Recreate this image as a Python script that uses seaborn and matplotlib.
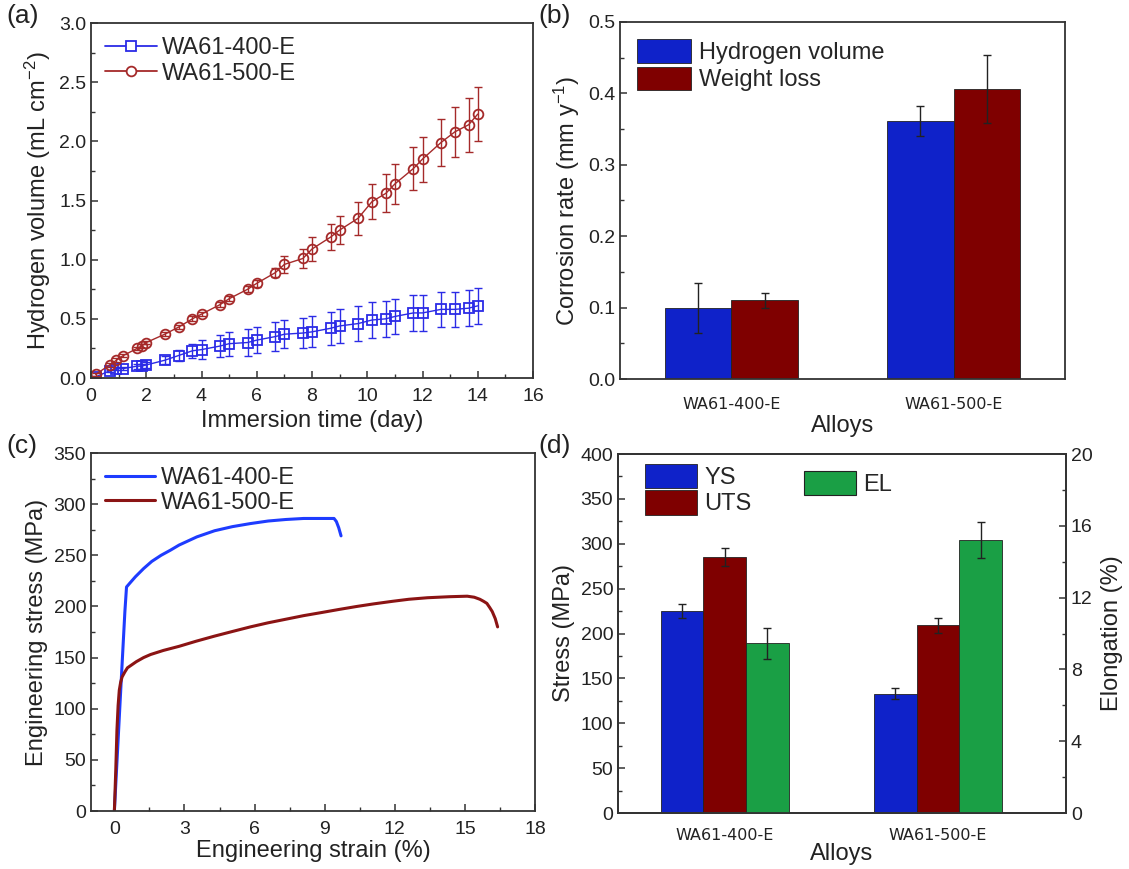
import numpy as np
import pandas as pd
import matplotlib
matplotlib.use("Agg")
import matplotlib.pyplot as plt
from matplotlib.ticker import MultipleLocator
from matplotlib.patches import Patch
from matplotlib.lines import Line2D
import seaborn as sns

# ---------------- data ----------------
# (a) hydrogen evolution during immersion
days = [0.17, 0.67, 0.92, 1.17, 1.67, 1.83, 2.0, 2.67, 3.17, 3.67, 4.0, 4.67, 5.0,
        5.67, 6.0, 6.67, 7.0, 7.67, 8.0, 8.67, 9.0, 9.67, 10.17, 10.67, 11.0, 11.67,
        12.0, 12.67, 13.17, 13.67, 14.0]
h400 = [0.01, 0.06, 0.08, 0.08, 0.10, 0.10, 0.11, 0.15, 0.19, 0.23, 0.24, 0.27, 0.29,
        0.30, 0.32, 0.35, 0.37, 0.38, 0.39, 0.42, 0.44, 0.46, 0.49, 0.50, 0.52, 0.55,
        0.55, 0.58, 0.58, 0.59, 0.61]
h400_err = [0.005, 0.01, 0.01, 0.015, 0.02, 0.02, 0.025, 0.035, 0.05, 0.06, 0.08, 0.09, 0.10,
            0.11, 0.11, 0.12, 0.12, 0.13, 0.13, 0.14, 0.14, 0.15, 0.15, 0.15, 0.15, 0.15,
            0.15, 0.15, 0.15, 0.15, 0.15]
h500 = [0.03, 0.11, 0.15, 0.19, 0.25, 0.27, 0.30, 0.37, 0.43, 0.50, 0.54, 0.62, 0.67,
        0.75, 0.80, 0.89, 0.96, 1.01, 1.09, 1.19, 1.25, 1.35, 1.49, 1.56, 1.64, 1.77,
        1.85, 1.99, 2.08, 2.14, 2.23]
h500_err = [0.01, 0.015, 0.015, 0.015, 0.015, 0.015, 0.015, 0.015, 0.015, 0.02, 0.02, 0.02, 0.02,
            0.025, 0.03, 0.04, 0.07, 0.08, 0.10, 0.11, 0.12, 0.14, 0.15, 0.16, 0.17, 0.18,
            0.19, 0.20, 0.21, 0.23, 0.23]

# (b) corrosion rates
alloys = ["WA61-400-E", "WA61-500-E"]
hv_rate = [0.100, 0.361]
hv_err = [0.035, 0.021]
wl_rate = [0.110, 0.406]
wl_err = [0.011, 0.048]

# (c) engineering stress-strain curves
strain400 = [0, 0.12, 0.23, 0.35, 0.45, 0.52, 0.67, 0.9, 1.25, 1.6, 2.0, 2.4, 2.77, 3.15,
             3.53, 4.29, 5.05, 5.82, 6.58, 7.34, 8.1, 8.86, 9.4, 9.5, 9.6, 9.7]
stress400 = [0, 52, 100, 152, 195, 219, 223, 229, 237, 244, 250, 255, 260, 264,
             268, 274, 278, 281, 283.5, 285, 286, 286, 286, 283, 277, 269]
strain500 = [0, 0.06, 0.11, 0.16, 0.21, 0.27, 0.33, 0.45, 0.56, 0.75, 0.94, 1.25, 1.55, 2.1,
             2.77, 3.5, 4.29, 5.05, 5.82, 6.58, 7.34, 8.1, 8.86, 9.6, 10.38, 11.1, 11.9,
             12.6, 13.4, 14.34, 15.1, 15.4, 15.64, 15.8, 15.94, 16.06, 16.17, 16.3, 16.4]
stress500 = [0, 40, 79, 103, 118, 126, 131, 136, 140, 143, 146, 150, 153, 157,
             161, 166, 171, 175.5, 180, 184, 187.5, 191, 194, 197, 200, 202.5, 205,
             207, 208.5, 209.5, 210, 209, 207, 205, 203, 199, 195, 188, 180]

# (d) tensile properties
ys = [225, 133]
ys_err = [8, 6.5]
uts = [285, 209]
uts_err = [10, 8]
el = [9.45, 15.2]
el_err = [0.85, 1.0]

# ---------------- style ----------------
sns.set_theme(style="ticks")
plt.rcParams["font.family"] = ["Liberation Sans", "DejaVu Sans"]
plt.rcParams["mathtext.default"] = "regular"
plt.rcParams["axes.linewidth"] = 1.3

BLUE_LINE = "#2b2be6"
RED_LINE = "#a52a2a"
BLUE_C = "#1e3cff"
RED_C = "#8b1414"
BLUE_BAR = "#0f22c9"
RED_BAR = "#7f0000"
GREEN_BAR = "#1a9f45"
EDGE = "#222222"
TXT = "#222222"

LABEL_FS = 17
TICK_FS = 14
LEG_FS = 17
CAT_FS = 11.5

W, H = 1129, 869
fig = plt.figure(figsize=(W / 100, H / 100), dpi=100)
fig.patch.set_facecolor("white")


def box(l, t, r, b):
    return [l / W, 1 - b / H, (r - l) / W, (b - t) / H]


axA = fig.add_axes(box(91, 23, 533, 378))
axB = fig.add_axes(box(620, 22, 1065, 379))
axC = fig.add_axes(box(91, 453, 535, 811))
axD = fig.add_axes(box(618, 454, 1066, 813))


def style(ax, bottom_ticks=True):
    for s in ax.spines.values():
        s.set_visible(True)
        s.set_linewidth(1.3)
        s.set_color("#333333")
    ax.tick_params(which="major", direction="in", length=5, width=1.1,
                   labelsize=TICK_FS, colors="#333333", labelcolor=TXT)
    ax.tick_params(which="minor", direction="in", length=3, width=1.0, colors="#333333")
    ax.tick_params(axis="x", which="major", pad=7)
    if not bottom_ticks:
        ax.tick_params(axis="x", which="both", length=0)


def bar_errors(ax, containers, errs_list):
    """Attach error bars to the top of each bar in the given containers."""
    for cont, errs in zip(containers, errs_list):
        xs = [b.get_x() + b.get_width() / 2 for b in cont]
        hs = [b.get_height() for b in cont]
        ax.errorbar(xs, hs, yerr=errs, fmt="none", ecolor=EDGE, elinewidth=1.0,
                    capsize=3, capthick=1.0)


def filled(ax):
    return [c for c in ax.containers if len(c) > 0]


# ---------------- (a) hydrogen volume ----------------
for y, err, col, mk, ms in [(h400, h400_err, BLUE_LINE, "s", 6.5),
                            (h500, h500_err, RED_LINE, "o", 7)]:
    sns.lineplot(x=days, y=y, ax=axA, color=col, lw=1.0, marker=mk, markersize=ms,
                 markerfacecolor="none", markeredgecolor=col, markeredgewidth=1.3,
                 estimator=None, sort=False)
    axA.errorbar(days, y, yerr=err, fmt="none", ecolor=col, elinewidth=1.0,
                 capsize=3, capthick=1.0)
axA.set_xlim(0, 16)
axA.set_ylim(0, 3.0)
axA.xaxis.set_major_locator(MultipleLocator(2))
axA.xaxis.set_minor_locator(MultipleLocator(1))
axA.yaxis.set_major_locator(MultipleLocator(0.5))
axA.yaxis.set_minor_locator(MultipleLocator(0.25))
axA.yaxis.set_major_formatter(plt.FormatStrFormatter("%.1f"))
axA.set_xlabel("Immersion time (day)", fontsize=LABEL_FS, color=TXT, labelpad=4)
axA.set_ylabel("Hydrogen volume (mL cm$^{-2}$)", fontsize=LABEL_FS, color=TXT, labelpad=4)
style(axA)
handlesA = [Line2D([], [], color=BLUE_LINE, lw=1.3, marker="s", markersize=6.5,
                   markerfacecolor="white", markeredgecolor=BLUE_LINE, markeredgewidth=1.3),
            Line2D([], [], color=RED_LINE, lw=1.3, marker="o", markersize=7,
                   markerfacecolor="white", markeredgecolor=RED_LINE, markeredgewidth=1.3)]
axA.legend(handlesA, alloys, loc="upper left", frameon=False, fontsize=LEG_FS,
           handlelength=2.2, handletextpad=0.2, labelspacing=0.15,
           borderaxespad=0.2, borderpad=0.4)

# ---------------- (b) corrosion rate ----------------
df_b = pd.DataFrame({
    "Alloy": alloys * 2,
    "Method": ["Hydrogen volume"] * 2 + ["Weight loss"] * 2,
    "Rate": hv_rate + wl_rate,
})
sns.barplot(data=df_b, x="Alloy", y="Rate", hue="Method",
            hue_order=["Hydrogen volume", "Weight loss"], dodge=True,
            palette=[BLUE_BAR, RED_BAR], saturation=1, width=0.6, errorbar=None,
            edgecolor=EDGE, linewidth=0.6, legend=False, ax=axB)
bar_errors(axB, filled(axB), [hv_err, wl_err])
axB.set_xlim(-0.5, 1.5)
axB.set_ylim(0, 0.5)
axB.yaxis.set_major_locator(MultipleLocator(0.1))
axB.yaxis.set_minor_locator(MultipleLocator(0.05))
axB.set_xlabel("Alloys", fontsize=LABEL_FS, color=TXT, labelpad=2)
axB.set_ylabel("Corrosion rate (mm y$^{-1}$)", fontsize=LABEL_FS, color=TXT, labelpad=4)
style(axB, bottom_ticks=False)
for lab in axB.get_xticklabels():
    lab.set_fontfamily("DejaVu Sans")
    lab.set_fontsize(CAT_FS)
axB.tick_params(axis="x", pad=13)
handlesB = [Patch(facecolor=BLUE_BAR, edgecolor=EDGE, linewidth=0.6),
            Patch(facecolor=RED_BAR, edgecolor=EDGE, linewidth=0.6)]
axB.legend(handlesB, ["Hydrogen volume", "Weight loss"], loc="upper left",
           bbox_to_anchor=(0.028, 0.965), frameon=False, fontsize=LEG_FS,
           handlelength=2.3, handleheight=1.15, handletextpad=0.3,
           labelspacing=0.12, borderaxespad=0, borderpad=0.2)

# ---------------- (c) stress-strain ----------------
sns.lineplot(x=strain400, y=stress400, ax=axC, color=BLUE_C, lw=2.2,
             estimator=None, sort=False)
sns.lineplot(x=strain500, y=stress500, ax=axC, color=RED_C, lw=2.2,
             estimator=None, sort=False)
axC.set_xlim(-1, 18)
axC.set_ylim(0, 350)
axC.xaxis.set_major_locator(MultipleLocator(3))
axC.xaxis.set_minor_locator(MultipleLocator(1.5))
axC.yaxis.set_major_locator(MultipleLocator(50))
axC.yaxis.set_minor_locator(MultipleLocator(25))
axC.set_xlabel("Engineering strain (%)", fontsize=LABEL_FS, color=TXT, labelpad=2)
axC.set_ylabel("Engineering stress (MPa)", fontsize=LABEL_FS, color=TXT, labelpad=4)
style(axC)
handlesC = [Line2D([], [], color=BLUE_C, lw=2.2), Line2D([], [], color=RED_C, lw=2.2)]
axC.legend(handlesC, alloys, loc="upper left", frameon=False, fontsize=LEG_FS,
           handlelength=2.1, handletextpad=0.25, labelspacing=0.1,
           borderaxespad=0.2, borderpad=0.4)

# ---------------- (d) tensile properties ----------------
props = ["YS", "UTS", "EL"]
pal_d = {"YS": BLUE_BAR, "UTS": RED_BAR, "EL": GREEN_BAR}
df_stress = pd.DataFrame({
    "Alloy": alloys * 2,
    "Property": ["YS"] * 2 + ["UTS"] * 2,
    "Value": ys + uts,
})
df_el = pd.DataFrame({"Alloy": alloys, "Property": ["EL"] * 2, "Value": el})

sns.barplot(data=df_stress, x="Alloy", y="Value", hue="Property", hue_order=props,
            dodge=True, palette=pal_d, saturation=1, width=0.6, errorbar=None,
            edgecolor=EDGE, linewidth=0.6, legend=False, ax=axD)
bar_errors(axD, filled(axD), [ys_err, uts_err])

axD2 = axD.twinx()
sns.barplot(data=df_el, x="Alloy", y="Value", hue="Property", hue_order=props,
            dodge=True, palette=pal_d, saturation=1, width=0.6, errorbar=None,
            edgecolor=EDGE, linewidth=0.6, legend=False, ax=axD2)
bar_errors(axD2, filled(axD2), [el_err])

axD.set_xlim(-0.5, 1.6)
axD.set_ylim(0, 400)
axD2.set_ylim(0, 20)
axD.yaxis.set_major_locator(MultipleLocator(50))
axD.yaxis.set_minor_locator(MultipleLocator(25))
axD2.yaxis.set_major_locator(MultipleLocator(4))
axD2.yaxis.set_minor_locator(MultipleLocator(2))
axD.set_xlabel("Alloys", fontsize=LABEL_FS, color=TXT, labelpad=0)
axD.set_ylabel("Stress (MPa)", fontsize=LABEL_FS, color=TXT, labelpad=4)
axD2.set_ylabel("Elongation (%)", fontsize=LABEL_FS, color=TXT, labelpad=6)
axD2.set_xlabel("")
style(axD, bottom_ticks=False)
style(axD2, bottom_ticks=False)
for lab in axD.get_xticklabels():
    lab.set_fontfamily("DejaVu Sans")
    lab.set_fontsize(CAT_FS)
axD.tick_params(axis="x", pad=11)

handlesYS = [Patch(facecolor=BLUE_BAR, edgecolor=EDGE, linewidth=0.6),
             Patch(facecolor=RED_BAR, edgecolor=EDGE, linewidth=0.6)]
leg1 = axD2.legend(handlesYS, ["YS", "UTS"], loc="upper left",
                   bbox_to_anchor=(0.05, 0.985), frameon=False, fontsize=LEG_FS,
                   handlelength=2.2, handleheight=1.2, handletextpad=0.3,
                   labelspacing=0.05, borderaxespad=0, borderpad=0.2)
axD2.add_artist(leg1)
axD2.legend([Patch(facecolor=GREEN_BAR, edgecolor=EDGE, linewidth=0.8)], ["EL"],
            loc="upper left", bbox_to_anchor=(0.404, 0.965), frameon=False,
            fontsize=LEG_FS, handlelength=2.2, handleheight=1.2, handletextpad=0.3,
            borderaxespad=0, borderpad=0.2)

# ---------------- panel letters ----------------
for x, y, s in [(6, 4, "(a)"), (538, 4, "(b)"), (6, 434, "(c)"), (538, 434, "(d)")]:
    fig.text(x / W, 1 - y / H, s, fontsize=19, color=TXT, ha="left", va="top")

fig.savefig("out.png", dpi=100, facecolor="white")
